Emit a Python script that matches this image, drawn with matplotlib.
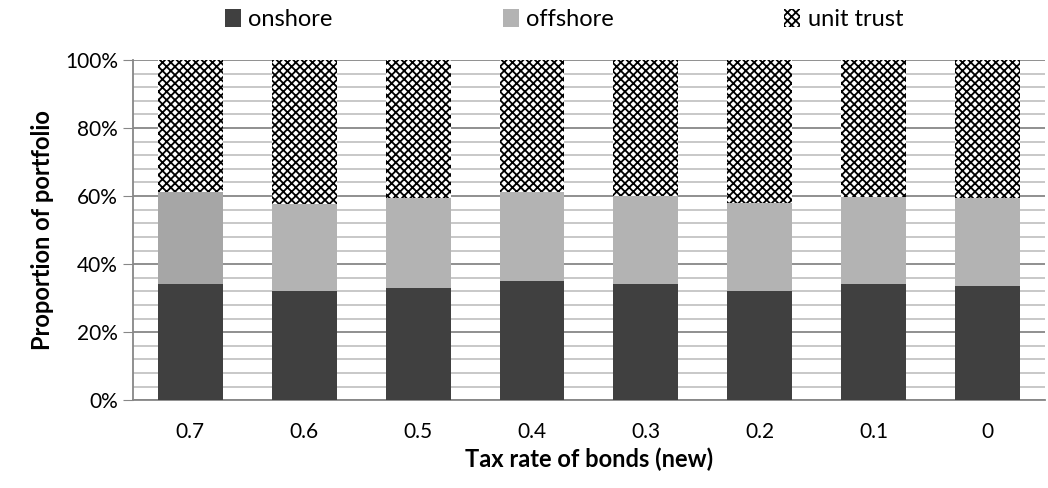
import matplotlib
matplotlib.use("Agg")
import matplotlib.pyplot as plt
import numpy as np
from matplotlib.patches import Patch
from matplotlib.ticker import MultipleLocator, PercentFormatter

plt.rcParams["font.family"] = ["Lato", "DejaVu Sans"]
plt.rcParams["hatch.linewidth"] = 1.3

# tax rate categories and shares of portfolio (%)
tax_rates = ["0.7", "0.6", "0.5", "0.4", "0.3", "0.2", "0.1", "0"]
onshore = [34.1, 32.0, 33.0, 35.1, 34.1, 32.1, 34.1, 33.5]
offshore_top = [61.1, 57.8, 59.3, 61.2, 60.1, 58.0, 59.8, 59.5]
offshore = [t - o for t, o in zip(offshore_top, onshore)]
unit_trust = [100 - t for t in offshore_top]
offshore_colors = ["#a6a6a6"] + ["#b3b3b3"] * 7

DARK = "#404040"

fig = plt.figure(figsize=(10.48, 4.88), dpi=100)
ax = fig.add_axes([0.127, 0.180, 0.870, 0.697])

x = np.arange(len(tax_rates))
w = 0.57
ax.bar(x, onshore, w, color=DARK, zorder=3)
ax.bar(x, offshore, w, bottom=onshore, color=offshore_colors, zorder=3)
ax.bar(x, unit_trust, w, bottom=offshore_top, facecolor="white",
       edgecolor="black", hatch="xxxx", linewidth=0, zorder=3)

ax.set_xlim(-0.5, len(tax_rates) - 0.5)
ax.set_ylim(0, 100)
ax.set_xticks(x)
ax.set_xticklabels(tax_rates)
ax.yaxis.set_major_locator(MultipleLocator(20))
ax.yaxis.set_minor_locator(MultipleLocator(4))
ax.yaxis.set_major_formatter(PercentFormatter(decimals=0))
ax.grid(axis="y", which="major", color="#878787", lw=1.3, zorder=0)
ax.grid(axis="y", which="minor", color="#c4c4c4", lw=1.3, zorder=0)
ax.tick_params(axis="x", length=0, labelsize=15, pad=16)
ax.tick_params(axis="y", which="major", length=7, color="#878787",
               labelsize=15, pad=4)
ax.tick_params(axis="y", which="minor", length=0)
for s in ["top", "right"]:
    ax.spines[s].set_visible(False)
for s in ["left", "bottom"]:
    ax.spines[s].set_color("#878787")
    ax.spines[s].set_linewidth(1.3)

ax.set_xlabel("Tax rate of bonds (new)", fontsize=17, fontweight="bold", labelpad=4)
ax.set_ylabel("Proportion of portfolio", fontsize=17, fontweight="bold", labelpad=8)

handles = [Patch(facecolor=DARK, label="onshore"),
           Patch(facecolor="#b3b3b3", label="offshore"),
           Patch(facecolor="white", edgecolor="black", hatch="xxxx", lw=0,
                 label="unit trust")]
fig.legend(handles=handles, loc="upper center", bbox_to_anchor=(0.538, 1.025),
           ncol=3, frameon=False, fontsize=17, handlelength=0.7,
           handleheight=0.8, handletextpad=0.3, columnspacing=7.2)

fig.savefig("out.png", dpi=100)
